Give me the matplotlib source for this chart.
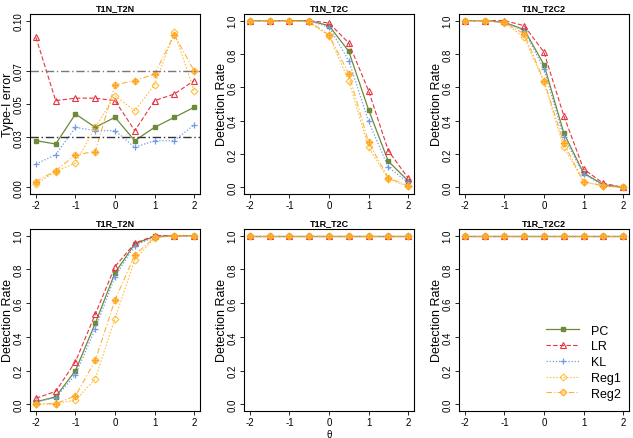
import matplotlib
matplotlib.use('Agg')
import matplotlib.pyplot as plt

plt.rcParams['font.family'] = ['Liberation Sans', 'DejaVu Sans']

theta = [-2, -1.5, -1, -0.5, 0, 0.5, 1, 1.5, 2]
methods = ['PC', 'LR', 'KL', 'Reg1', 'Reg2']
titles = ['T1N_T2N', 'T1N_T2C', 'T1N_T2C2', 'T1R_T2N', 'T1R_T2C', 'T1R_T2C2']

# panel values, one list per method (PC, LR, KL, Reg1, Reg2)
t1n_t2n = [
    [0.028, 0.026, 0.044, 0.036, 0.042, 0.028, 0.036, 0.042, 0.048],
    [0.090, 0.052, 0.0535, 0.0535, 0.052, 0.034, 0.052, 0.056, 0.064],
    [0.014, 0.0195, 0.036, 0.034, 0.034, 0.024, 0.028, 0.028, 0.0375],
    [0.002, 0.0095, 0.0145, 0.036, 0.055, 0.046, 0.0615, 0.093, 0.058],
    [0.0035, 0.010, 0.0195, 0.0215, 0.0615, 0.064, 0.068, 0.0915, 0.070],
]
t1n_t2c = [
    [1.0, 1.0, 1.0, 1.0, 0.97, 0.816, 0.466, 0.156, 0.04],
    [1.0, 1.0, 1.0, 1.0, 0.986, 0.866, 0.58, 0.22, 0.056],
    [1.0, 1.0, 1.0, 1.0, 0.96, 0.76, 0.396, 0.12, 0.03],
    [1.0, 1.0, 1.0, 0.99, 0.91, 0.64, 0.24, 0.05, 0.006],
    [1.0, 1.0, 1.0, 0.996, 0.914, 0.68, 0.27, 0.056, 0.01],
]
t1n_t2c2 = [
    [1.0, 1.0, 0.99, 0.946, 0.736, 0.326, 0.086, 0.016, 0.0],
    [1.0, 1.0, 1.0, 0.97, 0.81, 0.43, 0.11, 0.024, 0.0],
    [1.0, 1.0, 0.99, 0.94, 0.71, 0.30, 0.08, 0.01, 0.0],
    [1.0, 1.0, 0.986, 0.90, 0.63, 0.24, 0.034, 0.006, 0.0],
    [1.0, 1.0, 0.99, 0.92, 0.64, 0.266, 0.034, 0.01, 0.0],
]
t1r_t2n = [
    [0.014, 0.044, 0.20, 0.48, 0.78, 0.952, 0.996, 1.0, 1.0],
    [0.036, 0.076, 0.253, 0.534, 0.817, 0.956, 1.0, 1.0, 1.0],
    [0.014, 0.04, 0.175, 0.448, 0.757, 0.942, 0.992, 1.0, 1.0],
    [0.0, 0.004, 0.024, 0.15, 0.508, 0.857, 0.986, 1.0, 1.0],
    [0.0, 0.004, 0.05, 0.26, 0.618, 0.886, 0.99, 1.0, 1.0],
]
t1r_t2c = [[1.0] * 9 for _ in methods]
t1r_t2c2 = [[1.0] * 9 for _ in methods]
panels = [t1n_t2n, t1n_t2c, t1n_t2c2, t1r_t2n, t1r_t2c, t1r_t2c2]

colors = ['#6b8a3a', '#e8343f', '#6f9be8', '#ffb520', '#ffa31a']
styles = ['-', (0, (4, 2)), (0, (1, 1.5)), (0, (1.5, 1.5)), (0, (5, 2, 1, 2))]

fig = plt.figure(figsize=(6.33, 4.39), dpi=100)
W, H = 633, 439
lefts = [30, 244, 459]
rows = [(15, 195), (230, 412)]

axes = []
for r, (top, bot) in enumerate(rows):
    for c, left in enumerate(lefts):
        ax = fig.add_axes([left / W, 1 - bot / H, 170 / W, (bot - top) / H])
        axes.append(ax)

handles = []
for k, ax in enumerate(axes):
    data = panels[k]
    for m in range(len(methods)):
        if m == 3:
            h, = ax.plot(theta, data[m], linestyle=styles[m], color=colors[m], lw=0.8,
                         marker='D', ms=3.5, mfc='none', mec=colors[m], mew=0.8, alpha=0.85)
        elif m == 4:
            h, = ax.plot(theta, data[m], linestyle=styles[m], color=colors[m], lw=0.8,
                         marker='D', ms=3.5, mfc='#ffd27a', mec=colors[m], mew=0.8, alpha=0.85)
            ax.plot(theta, data[m], linestyle='none', marker='+', ms=5, mec=colors[m], mew=0.9)
        elif m == 2:
            h, = ax.plot(theta, data[m], linestyle=styles[m], color=colors[m], lw=0.9,
                         marker='+', ms=5, mew=0.9)
        elif m == 1:
            h, = ax.plot(theta, data[m], linestyle=styles[m], color=colors[m], lw=0.8,
                         marker='^', ms=4, mfc='none', mew=0.8)
        else:
            h, = ax.plot(theta, data[m], linestyle=styles[m], color=colors[m], lw=0.9,
                         marker='s', ms=3.5)
        if k == 0:
            handles.append(h)

    ax.set_xlim(-2.15, 2.15)
    ax.set_xticks([-2, -1, 0, 1, 2])
    ax.set_xticklabels(['-2', '-1', '0', '1', '2'])
    if k == 0:
        ax.set_ylim(-0.004, 0.104)
        ax.set_yticks([0, 0.03, 0.05, 0.07, 0.10])
        ax.set_yticklabels(['0.00', '0.03', '0.05', '0.07', '0.10'], rotation=90, va='center')
        ax.axhline(0.07, color='#777777', lw=1.0, linestyle=(0, (6, 2, 1, 2)))
        ax.axhline(0.03, color='#333333', lw=1.0, linestyle=(0, (6, 2, 1, 2)))
        ax.set_ylabel('Type-I error', fontsize=9, labelpad=0)
    else:
        ax.set_ylim(-0.04, 1.04)
        ax.set_yticks([0, 0.2, 0.4, 0.6, 0.8, 1.0])
        ax.set_yticklabels(['0.0', '0.2', '0.4', '0.6', '0.8', '1.0'], rotation=90, va='center')
        ax.set_ylabel('Detection Rate', fontsize=9, labelpad=0)
    ax.set_title(titles[k], fontsize=6.5, fontweight='bold', pad=3)
    ax.tick_params(labelsize=7, length=3, width=0.6, pad=1.5)
    for s in ax.spines.values():
        s.set_linewidth(0.8)

axes[4].set_xlabel('θ', fontsize=7, labelpad=1)

axes[5].legend(handles, methods, loc='lower right', bbox_to_anchor=(1.02, 0.0),
               frameon=False, fontsize=9, handlelength=2.6, labelspacing=0.3,
               handletextpad=1.0)

fig.savefig('out.png', dpi=100)
